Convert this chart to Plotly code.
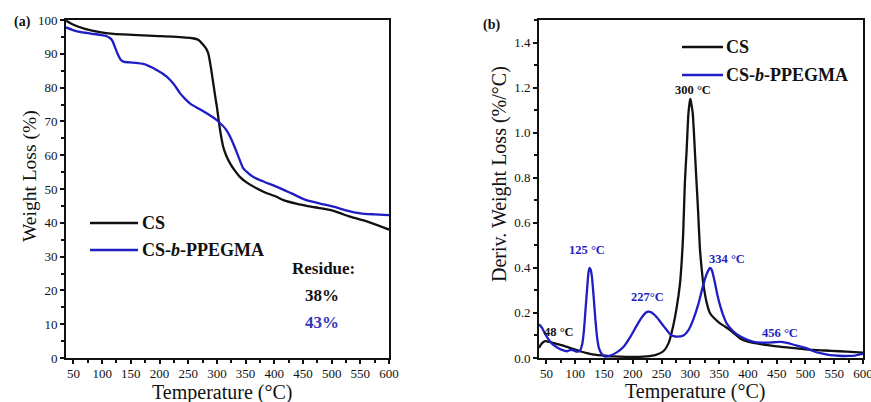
import plotly.graph_objects as go

# ---- TGA: weight loss (%) vs temperature ----
tga_cs_t = [37, 50, 70, 96, 120, 153, 190, 223, 258, 268, 276, 281, 285, 289, 293.7, 297,
            300, 303, 305.5, 308, 311, 316, 323, 331, 340, 353, 369, 385, 404, 416,
            440, 470, 502, 532, 565, 600]
tga_cs_w = [99.8, 98.6, 97.4, 96.4, 95.9, 95.6, 95.3, 95.1, 94.6, 94.1, 92.7, 91.6, 90.1, 86.5, 81.3, 77.5,
            74.3, 70.5, 67.5, 65.0, 62.5, 60.0, 57.6, 55.5, 53.6, 51.8, 50.2, 48.9, 47.7, 46.7,
            45.6, 44.6, 43.6, 41.8, 40.2, 38.0]

tga_pp_t = [37, 48, 61, 80, 96, 108, 114, 118, 122, 125, 128, 132, 137, 154, 172, 195,
            213, 225, 236, 245, 254, 268, 282, 295, 303, 315, 323, 332, 340, 346,
            354, 363, 380, 404, 430, 456, 480, 503, 525, 550, 575, 600]
tga_pp_w = [97.8, 97.1, 96.5, 96.0, 95.6, 95.2, 94.6, 93.8, 92.1, 90.8, 89.6, 88.3, 87.7, 87.4, 87.0, 85.2,
            83.2, 81.0, 78.3, 76.6, 75.2, 73.8, 72.4, 71.0, 69.9, 67.8, 65.5, 62.0, 58.5, 56.1,
            54.8, 53.6, 52.3, 50.7, 48.7, 46.7, 45.7, 44.8, 43.7, 42.8, 42.5, 42.3]

# ---- DTG: derivative weight loss (%/°C) vs temperature ----
dtg_cs_t = [37, 42, 48, 56, 66, 79, 93, 108, 122, 137, 152, 166, 190, 210, 224, 240, 253, 262,
            270, 276, 282, 285, 287.5, 290.5, 293.5, 296.5, 298.5, 300, 301.5, 304, 306,
            308, 310.5, 313.5, 316.5, 319.5, 322.5, 328, 334, 342, 351.5, 360, 369,
            378, 386.5, 400, 415.6, 435, 455.4, 485, 512.6, 545, 572, 600]
dtg_cs_d = [0.045, 0.065, 0.075, 0.071, 0.064, 0.055, 0.043, 0.030, 0.021, 0.014, 0.010, 0.007, 0.005, 0.005, 0.007, 0.014, 0.030, 0.065,
            0.14, 0.22, 0.33, 0.43, 0.55, 0.78, 0.92, 1.08, 1.13, 1.15, 1.13, 1.09, 1.01,
            0.91, 0.79, 0.65, 0.49, 0.40, 0.33, 0.25, 0.20, 0.175, 0.154, 0.140, 0.124,
            0.105, 0.087, 0.073, 0.065, 0.057, 0.050, 0.043, 0.036, 0.032, 0.028, 0.024]

dtg_pp_t = [37, 42, 47, 53, 60, 68, 77, 86, 92, 97, 103, 108, 112, 115, 118, 121, 123, 125,
            127, 129, 132, 135, 138, 141, 146, 152, 160, 172, 184, 196, 207, 217, 223, 227,
            232, 242, 251, 259, 265, 271, 277, 288, 297, 305, 314, 322, 328, 332, 334,
            337, 340, 343, 347, 352, 357, 363, 374, 387, 398, 410, 422, 433, 445, 456,
            468, 485, 500, 514, 528, 543, 558, 572, 586, 600]
dtg_pp_d = [0.150, 0.135, 0.110, 0.085, 0.062, 0.048, 0.036, 0.030, 0.036, 0.034, 0.028, 0.032, 0.06, 0.12, 0.22, 0.32, 0.38, 0.40,
            0.39, 0.36, 0.27, 0.17, 0.09, 0.045, 0.018, 0.006, 0.010, 0.025, 0.050, 0.095, 0.145, 0.185, 0.202, 0.206,
            0.203, 0.180, 0.150, 0.124, 0.105, 0.097, 0.095, 0.100, 0.125, 0.170, 0.240, 0.320, 0.370, 0.392, 0.400,
            0.392, 0.365, 0.330, 0.280, 0.230, 0.190, 0.154, 0.120, 0.095, 0.082, 0.072, 0.068, 0.068, 0.070, 0.072,
            0.067, 0.055, 0.045, 0.030, 0.020, 0.013, 0.010, 0.009, 0.011, 0.018]

series_names = ["CS", "CS-<i>b</i>-PPEGMA"]
residues = ["38%", "43%"]
x_ticks = list(range(50, 601, 50))

BLACK = "#111111"
BLUE = "#1e1ec4"
SERIF = "Liberation Serif"

fig = go.Figure()

line_cfg = dict(width=2.3, shape="spline", smoothing=0.6)
fig.add_trace(go.Scatter(x=tga_cs_t, y=tga_cs_w, mode="lines", name=series_names[0],
                         line=dict(color=BLACK, **line_cfg), xaxis="x", yaxis="y", showlegend=False))
fig.add_trace(go.Scatter(x=tga_pp_t, y=tga_pp_w, mode="lines", name=series_names[1],
                         line=dict(color=BLUE, **line_cfg), xaxis="x", yaxis="y", showlegend=False))
fig.add_trace(go.Scatter(x=dtg_cs_t, y=dtg_cs_d, mode="lines", name=series_names[0],
                         line=dict(color=BLACK, **line_cfg), xaxis="x2", yaxis="y2", showlegend=False))
fig.add_trace(go.Scatter(x=dtg_pp_t, y=dtg_pp_d, mode="lines", name=series_names[1],
                         line=dict(color=BLUE, **line_cfg), xaxis="x2", yaxis="y2", showlegend=False))

tick_font = dict(family=SERIF, size=13, color=BLACK)

def x_axis(domain, anchor):
    return dict(domain=domain, range=[37, 600], tickvals=x_ticks, ticks="outside",
                ticklen=4, tickwidth=1.5, tickcolor=BLACK, anchor=anchor,
                minor=dict(tickvals=[v + 25 for v in x_ticks[:-1]], ticks="outside", ticklen=3,
                           tickwidth=1.5, tickcolor=BLACK),
                showline=True, linewidth=2, linecolor=BLACK, mirror=True,
                showgrid=False, zeroline=False, tickfont=tick_font,
                ticklabeloverflow="allow", ticklabelstandoff=-2,
                automargin=False)

def y_axis(domain, rng, dtick, anchor):
    return dict(domain=domain, range=rng, dtick=dtick, tick0=0, ticks="outside",
                ticklen=4, tickwidth=1.5, tickcolor=BLACK,
                minor=dict(dtick=dtick / 2, ticks="outside", ticklen=3, tickwidth=1.5,
                           tickcolor=BLACK),
                showline=True, linewidth=2, linecolor=BLACK, mirror=True,
                showgrid=False, zeroline=False, tickfont=tick_font, anchor=anchor,
                automargin=False)

W, H = 871, 402
ydom = [1 - 358 / H, 1 - 20 / H]
fig.update_layout(
    width=W, height=H,
    margin=dict(l=0, r=0, t=0, b=0),
    paper_bgcolor="white", plot_bgcolor="white",
    font=dict(family=SERIF, color=BLACK),
    xaxis=x_axis([66 / W, 389 / W], "y"),
    yaxis=y_axis(ydom, [0, 100], 10, "x"),
    xaxis2=x_axis([539 / W, 863 / W], "y2"),
    yaxis2=y_axis(ydom, [0, 1.5], 0.2, "x2"),
)
fig.layout.yaxis2.update(tickformat=".1f")

ann = []
shapes = []

def text(t, x, y, font, xref="paper", yref="paper", angle=0, xanchor="center"):
    ann.append(dict(text=t, x=x, y=y, xref=xref, yref=yref, showarrow=False, textangle=angle,
                    xanchor=xanchor, yanchor="middle", font=font))

# axis titles
title_font = dict(family=SERIF, size=20, color=BLACK)
text("Temperature (°C)", 222 / W, 1 - 392 / H, title_font)
text("Temperature (°C)", 695 / W, 1 - 391 / H, title_font)
text("Weight Loss (%)", 30 / W, 1 - 176 / H, title_font | dict(size=19.5), angle=-90)
text("Deriv. Weight Loss (%/°C)", 500 / W, 1 - 174 / H, title_font, angle=-90)

# panel letters
text("<b>(a)</b>", 22 / W, 1 - 22 / H, dict(family=SERIF, size=14, color=BLACK))
text("<b>(b)</b>", 491 / W, 1 - 25 / H, dict(family=SERIF, size=14, color=BLACK))

# legends drawn inside each panel
leg_font = dict(family=SERIF, size=18, color=BLACK)
def dom_y(py):
    return (358 - py) / 338

def legend(xd, yd, x0, x1, xt, rows):
    for (label, color), yy in zip(zip(series_names, [BLACK, BLUE]), rows):
        shapes.append(dict(type="line", xref=f"{xd} domain", yref=f"{yd} domain",
                           x0=x0, x1=x1, y0=yy, y1=yy, line=dict(color=color, width=2.5)))
        text(f"<b>{label}</b>", xt, yy, leg_font, xref=f"{xd} domain", yref=f"{yd} domain",
             xanchor="left")

legend("x", "y", (90 - 66) / 323, (138 - 66) / 323, (140 - 66) / 323, [dom_y(223), dom_y(250)])
legend("x2", "y2", (682 - 539) / 324, (723 - 539) / 324, (724 - 539) / 324, [dom_y(47), dom_y(75)])

# residue note
res_font = dict(family=SERIF, size=17, color=BLACK)
text("<b>Residue:</b>", (323 - 66) / 323, dom_y(268), res_font, "x domain", "y domain")
text(f"<b>{residues[0]}</b>", (322 - 66) / 323, dom_y(295), res_font, "x domain", "y domain")
text(f"<b>{residues[1]}</b>", (322 - 66) / 323, dom_y(322), res_font | dict(color="#3535b8"),
     "x domain", "y domain")

# DTG peak labels
peak_labels = [("300 °C", 305, 1.19, BLACK), ("125 °C", 120, 0.48, BLUE),
               ("227°C", 226, 0.27, BLUE), ("334 °C", 364, 0.44, BLUE),
               ("456 °C", 456, 0.11, BLUE), ("48 °C", 72, 0.115, BLACK)]
for txt, px, py, col in peak_labels:
    text(f"<b>{txt}</b>", px, py, dict(family=SERIF, size=12.5, color=col), "x2", "y2")

fig.update_layout(annotations=ann, shapes=shapes)
fig.write_html("out.html")
